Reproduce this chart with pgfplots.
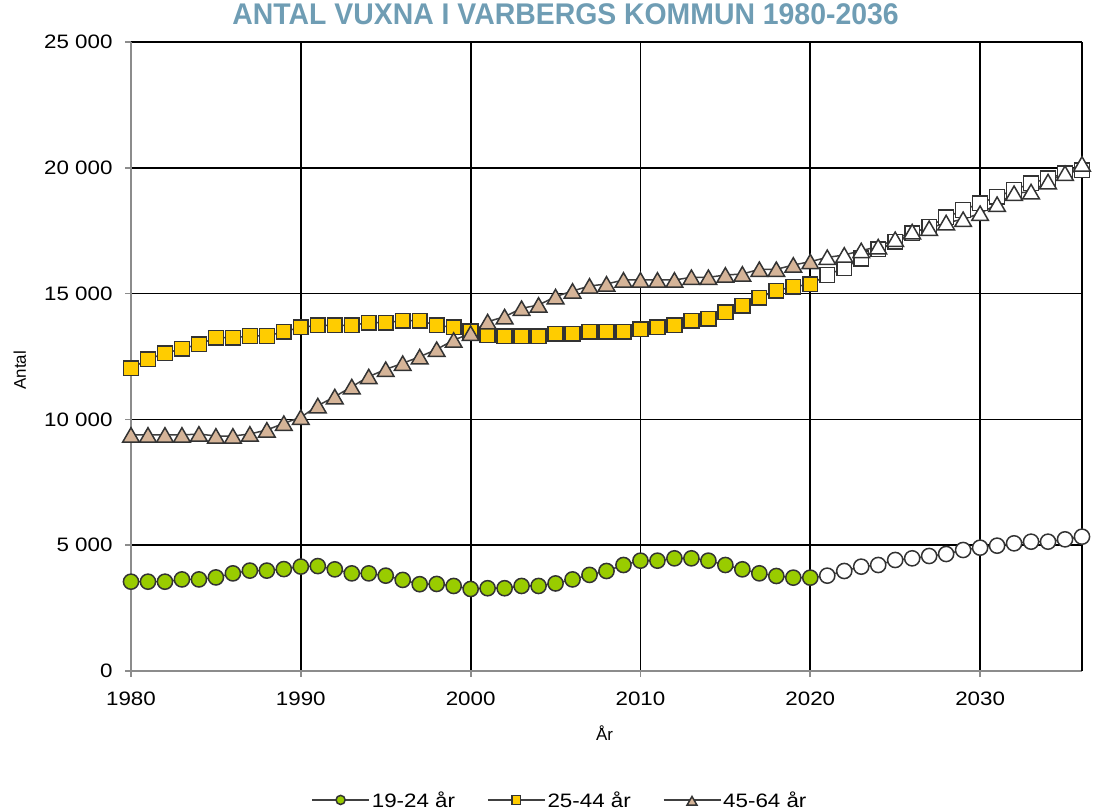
\documentclass[border=0pt]{standalone}
\usepackage{pgfplots}
\pgfplotsset{compat=1.18}
\usepackage{pgfplotstable}
\usepackage{fontspec}
\setmainfont{Liberation Sans}
\newfontfamily\tickfont[FakeStretch=1.15]{Liberation Sans}
\newfontfamily\titlefont[FakeStretch=0.95]{Liberation Sans}
\definecolor{titleblue}{RGB}{111,157,180}
\definecolor{mgreen}{RGB}{153,204,0}
\definecolor{myellow}{RGB}{255,204,0}
\definecolor{mtan}{RGB}{213,180,152}
\definecolor{mline}{RGB}{64,64,64}
\definecolor{medge}{RGB}{51,51,51}

\pgfplotstableread{
year val
1980 3550
1981 3550
1982 3550
1983 3640
1984 3640
1985 3720
1986 3880
1987 3990
1988 3990
1989 4050
1990 4150
1991 4170
1992 4040
1993 3880
1994 3880
1995 3790
1996 3620
1997 3450
1998 3460
1999 3380
2000 3260
2001 3290
2002 3290
2003 3380
2004 3380
2005 3480
2006 3640
2007 3820
2008 3975
2009 4213
2010 4385
2011 4385
2012 4478
2013 4478
2014 4385
2015 4213
2016 4041
2017 3882
2018 3776
2019 3710
2020 3710
2021 3789
2022 3975
2023 4147
2024 4213
2025 4412
2026 4478
2027 4571
2028 4650
2029 4809
2030 4902
2031 4981
2032 5074
2033 5140
2034 5140
2035 5233
2036 5339
}\tabA

\pgfplotstableread{
year val
1980 12031
1981 12389
1982 12627
1983 12810
1984 12985
1985 13247
1986 13247
1987 13315
1988 13315
1989 13486
1990 13660
1991 13740
1992 13740
1993 13740
1994 13844
1995 13844
1996 13924
1997 13924
1998 13740
1999 13660
2000 13500
2001 13354
2002 13302
2003 13302
2004 13302
2005 13407
2006 13407
2007 13486
2008 13486
2009 13486
2010 13580
2011 13660
2012 13740
2013 13924
2014 14003
2015 14257
2016 14520
2017 14838
2018 15117
2019 15276
2020 15369
2021 15739
2022 16020
2023 16390
2024 16760
2025 17064
2026 17395
2027 17660
2028 18031
2029 18323
2030 18588
2031 18853
2032 19118
2033 19383
2034 19582
2035 19780
2036 19900
}\tabB

\pgfplotstableread{
year val
1980 9380
1981 9380
1982 9380
1983 9380
1984 9420
1985 9340
1986 9340
1987 9420
1988 9580
1989 9845
1990 10083
1991 10546
1992 10904
1993 11300
1994 11700
1995 11990
1996 12230
1997 12490
1998 12785
1999 13150
2000 13420
2001 13883
2002 14082
2003 14414
2004 14547
2005 14878
2006 15103
2007 15302
2008 15382
2009 15541
2010 15541
2011 15541
2012 15541
2013 15647
2014 15647
2015 15739
2016 15779
2017 15965
2018 15965
2019 16137
2020 16270
2021 16440
2022 16534
2023 16710
2024 16864
2025 17157
2026 17460
2027 17593
2028 17819
2029 17951
2030 18190
2031 18548
2032 18985
2033 19051
2034 19449
2035 19780
2036 20151
}\tabC

\begin{document}
\begin{tikzpicture}
\begin{axis}[
  scale only axis,
  width=951bp, height=629bp,
  xmin=1980, xmax=2036,
  ymin=0, ymax=25000,
  xtick={1980,1990,2000,2010,2020,2030},
  xticklabels={1980,1990,2000,2010,2020,2030},
  ytick={0,5000,10000,15000,20000,25000},
  yticklabels={0,5 000,10 000,15 000,20 000,25 000},
  ticklabel style={font=\tickfont\fontsize{19.5}{22}\selectfont, text=black},
  xticklabel style={yshift=-11bp},
  yticklabel style={xshift=-9bp},
  scaled y ticks=false,
  axis x line*=bottom,
  axis y line*=left,
  axis line style={draw=gray!90, line width=1.8bp, -},
  tick align=outside,
  major tick length=6bp,
  tick style={draw=gray!90, line width=1.8bp},
  xmajorgrids, ymajorgrids,
  grid style={draw=black, line width=1.8bp},
  extra x ticks={2036},
  extra x tick labels={},
  extra x tick style={grid=major, tick style={draw=none}},
  title={\titlefont\bfseries\fontsize{30}{34}\selectfont ANTAL VUXNA I VARBERGS KOMMUN 1980-2036},
  title style={at={(0.457,1.035)}, anchor=center, text=titleblue, inner sep=0pt},
  ylabel={Antal},
  ylabel style={at={(axis description cs:-0.117,0.478)}, anchor=center, font=\fontsize{17}{20}\selectfont},
  xlabel={År},
  xlabel style={at={(axis description cs:0.498,-0.0986)}, anchor=center, font=\fontsize{17}{20}\selectfont},
  clip=false,
  legend columns=3,
  legend style={draw=none, fill=none, at={(0.451,-0.205)}, anchor=center,
    font=\tickfont\fontsize{19.5}{22}\selectfont,
    /tikz/every even column/.append style={column sep=30bp},
    inner sep=0pt},
  legend image code/.code={
    \draw[draw=mline, line width=1.5bp] (0bp,0bp) -- (57bp,0bp);
    \draw[#1, /tikz/every mark/.append style={scale=0.6}] plot coordinates {(28.5bp,0bp)};
  },
]
% 19-24
\addplot[draw=mline, line width=1.5bp, forget plot] table[x=year,y=val] {\tabA};
\addplot[only marks, mark=*, mark size=7.6bp,
  mark options={fill=mgreen, draw=medge, line width=1.5bp},
  restrict x to domain=1980:2020] table[x=year,y=val] {\tabA};
\addlegendentry{19-24 år}
\addplot[only marks, mark=*, mark size=7.6bp,
  mark options={fill=white, draw=medge, line width=1.5bp},
  restrict x to domain=2021:2036, forget plot] table[x=year,y=val] {\tabA};
% 25-44
\addplot[draw=mline, line width=1.5bp, forget plot] table[x=year,y=val] {\tabB};
\addplot[only marks, mark=square*, mark size=7.4bp,
  mark options={fill=myellow, draw=medge, line width=1.5bp},
  restrict x to domain=1980:2020] table[x=year,y=val] {\tabB};
\addlegendentry{25-44 år}
\addplot[only marks, mark=square*, mark size=7.4bp,
  mark options={fill=white, draw=medge, line width=1.5bp},
  restrict x to domain=2021:2036, forget plot] table[x=year,y=val] {\tabB};
% 45-64
\addplot[draw=mline, line width=1.5bp, forget plot] table[x=year,y=val] {\tabC};
\addplot[only marks, mark=triangle*, mark size=9.6bp,
  mark options={fill=mtan, draw=medge, line width=1.5bp, yshift=-2.3bp},
  restrict x to domain=1980:2020] table[x=year,y=val] {\tabC};
\addlegendentry{45-64 år}
\addplot[only marks, mark=triangle*, mark size=9.6bp,
  mark options={fill=white, draw=medge, line width=1.5bp, yshift=-2.3bp},
  restrict x to domain=2021:2036, forget plot] table[x=year,y=val] {\tabC};
\end{axis}
\pgfresetboundingbox
\path (-131bp,-140bp) rectangle (964bp,671bp);
\end{tikzpicture}
\end{document}
